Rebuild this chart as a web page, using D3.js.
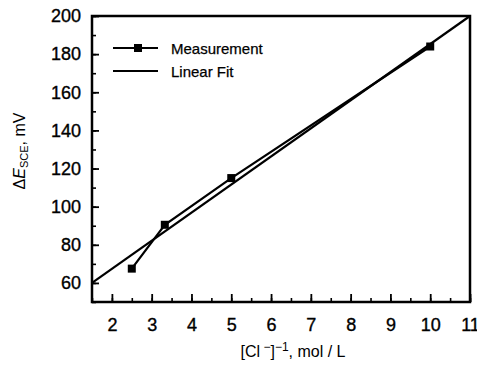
<!DOCTYPE html>
<html><head><meta charset="utf-8">
<script src="https://cdn.jsdelivr.net/npm/d3@7"></script>
<style>
html,body{margin:0;padding:0;background:#fff;}
svg{display:block;font-family:"Liberation Sans",Arial,sans-serif;}
</style></head>
<body>
<svg id="chart" width="477" height="380"></svg>
<script>
// Data
const measX = [2.5, 3.33, 5, 10];
const measY = [67.5, 90.5, 115, 184];
const fitX = [1.5, 11];
const fitY = [60, 200];
const xTicks = [2, 3, 4, 5, 6, 7, 8, 9, 10, 11];
const yTicks = [60, 80, 100, 120, 140, 160, 180, 200];
const legendLabels = ["Measurement", "Linear Fit"];

const svg = d3.select("#chart");
const L = 92, R = 470, T = 16, B = 302;
const x = d3.scaleLinear().domain([1.5, 11]).range([L, R]);
const y = d3.scaleLinear().domain([50, 200]).range([B, T]);

// minor ticks
const xMinor = d3.range(1.5, 11.01, 0.5);
const yMinor = d3.range(50, 200.1, 10);

const gx = svg.append("g").attr("transform", `translate(0,${B})`)
  .call(d3.axisBottom(x).tickValues(xMinor).tickSize(-4).tickFormat(""));
gx.selectAll("path").remove();
gx.selectAll("line").attr("stroke", "#000").attr("stroke-width", 1.6);

const gx2 = svg.append("g").attr("transform", `translate(0,${B})`)
  .call(d3.axisBottom(x).tickValues(xTicks).tickSize(-8).tickPadding(16).tickFormat(d3.format("d")));
gx2.selectAll("path").remove();
gx2.selectAll("line").attr("stroke", "#000").attr("stroke-width", 1.8);
gx2.selectAll("text").attr("font-size", 18).attr("fill", "#000")
  .attr("stroke", "#000").attr("stroke-width", 0.35);

const gy = svg.append("g").attr("transform", `translate(${L},0)`)
  .call(d3.axisLeft(y).tickValues(yMinor).tickSize(-4).tickFormat(""));
gy.selectAll("path").remove();
gy.selectAll("line").attr("stroke", "#000").attr("stroke-width", 1.6);

const gy2 = svg.append("g").attr("transform", `translate(${L},0)`)
  .call(d3.axisLeft(y).tickValues(yTicks).tickSize(-7).tickPadding(11).tickFormat(d3.format("d")));
gy2.selectAll("path").remove();
gy2.selectAll("line").attr("stroke", "#000").attr("stroke-width", 1.8);
gy2.selectAll("text").attr("font-size", 18).attr("fill", "#000")
  .attr("stroke", "#000").attr("stroke-width", 0.35);

// frame
svg.append("rect").attr("x", L).attr("y", T).attr("width", R - L).attr("height", B - T)
  .attr("fill", "none").attr("stroke", "#000").attr("stroke-width", 2.5);

const line = d3.line().x(d => x(d[0])).y(d => y(d[1]));

// linear fit
svg.append("path").datum(fitX.map((v, i) => [v, fitY[i]]))
  .attr("d", line).attr("fill", "none").attr("stroke", "#000").attr("stroke-width", 2.2);

// measurement
const meas = measX.map((v, i) => [v, measY[i]]);
svg.append("path").datum(meas).attr("d", line)
  .attr("fill", "none").attr("stroke", "#000").attr("stroke-width", 2.2);
svg.selectAll("rect.m").data(meas).enter().append("rect").attr("class", "m")
  .attr("x", d => x(d[0]) - 4).attr("y", d => y(d[1]) - 4)
  .attr("width", 8).attr("height", 8).attr("fill", "#000");

// legend
const lg = svg.append("g");
const rows = [48, 71];
lg.append("line").attr("x1", 113).attr("x2", 158).attr("y1", rows[0]).attr("y2", rows[0])
  .attr("stroke", "#000").attr("stroke-width", 2.2);
lg.append("rect").attr("x", 134).attr("y", rows[0] - 4).attr("width", 8).attr("height", 8).attr("fill", "#000");
lg.append("line").attr("x1", 113).attr("x2", 158).attr("y1", rows[1]).attr("y2", rows[1])
  .attr("stroke", "#000").attr("stroke-width", 2.2);
legendLabels.forEach((t, i) => {
  lg.append("text").attr("x", 171).attr("y", rows[i] + 5.5).attr("font-size", 15)
    .attr("fill", "#000").attr("stroke", "#000").attr("stroke-width", 0.25).text(t);
});

// x title
const xt = svg.append("text").attr("x", 293).attr("y", 357).attr("text-anchor", "middle")
  .attr("font-size", 16).attr("fill", "#000");
xt.append("tspan").text("[Cl");
xt.append("tspan").attr("dy", -6).attr("font-size", 12).text(" \u2212");
xt.append("tspan").attr("dy", 6).text("]");
xt.append("tspan").attr("dy", -6).attr("font-size", 12).text("\u22121");
xt.append("tspan").attr("dy", 6).text(", mol / L");

// y title
const yt = svg.append("text").attr("transform", "translate(25,151) rotate(-90)")
  .attr("text-anchor", "middle").attr("font-size", 16).attr("fill", "#000");
yt.append("tspan").text("\u0394");
yt.append("tspan").attr("font-style", "italic").text("E");
yt.append("tspan").attr("dy", 3).attr("font-size", 11).text("SCE");
yt.append("tspan").attr("dy", -3).text(", mV");
</script>
</body></html>
